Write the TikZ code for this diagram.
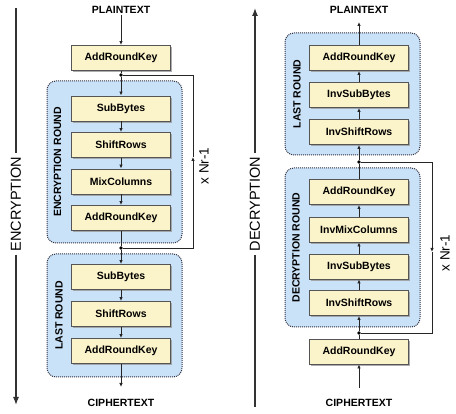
\documentclass[tikz,border=0pt]{standalone}
\usepackage{fontspec}
\setmainfont{Liberation Sans}
\usetikzlibrary{arrows.meta,shadows}
\definecolor{boxfill}{HTML}{FBF3C9}
\definecolor{boxline}{HTML}{555555}
\definecolor{roundfill}{HTML}{C9E2F8}
\definecolor{roundline}{HTML}{333344}
\begin{document}
\begin{tikzpicture}[x=1pt,y=-1pt,
  stepbox/.style={draw=boxline, line width=0.9pt, fill=boxfill, minimum width=99pt, minimum height=25pt, inner sep=0pt,
    font=\bfseries\fontsize{10.5}{12}\selectfont,
    drop shadow={shadow xshift=1.6pt, shadow yshift=-1.6pt, fill=black!40, opacity=0.8}},
  roundbox/.style={draw=roundline, fill=roundfill, dash pattern=on 1pt off 1pt, line width=1pt, rounded corners=9pt, inner sep=0pt},
  lbl/.style={font=\bfseries\fontsize{10.5}{12}\selectfont, inner sep=1pt},
  sidelbl/.style={font=\fontsize{14.5}{16}\selectfont, rotate=90, inner sep=3pt},
  looplbl/.style={font=\fontsize{13.5}{15}\selectfont, rotate=90, inner sep=1pt},
  conn/.style={draw=black!85, line width=0.8pt},
  arr/.style={conn, -{Latex[length=4pt,width=3.5pt]}},
  bigarr/.style={draw=black!80, line width=1.3pt, -{Latex[length=8pt,width=6pt]}},
  dot/.style={circle, fill=black, inner sep=0pt, minimum size=3.6pt}
]
\useasboundingbox (0,0) rectangle (456,414);

% ---------------- ENCRYPTION ----------------
\coordinate (ea) at (16,8);
\coordinate (eb) at (16,405);
\node[sidelbl] (enclbl) at (16,204) {ENCRYPTION};
\draw[draw=black!80, line width=1.3pt] (ea) -- (enclbl);
\draw[bigarr] (enclbl) -- (eb);

\node[roundbox, minimum width=135pt, minimum height=162pt] (eround) at (114.5,162) {};
\node[roundbox, minimum width=135pt, minimum height=123pt] (elast) at (114.5,315.5) {};
\node[lbl, rotate=90] (eroundlbl) at (57.5,162) {ENCRYPTION ROUND};
\node[lbl, rotate=90] (elastlbl) at (59,315.5) {LAST ROUND};

\node[lbl] (plain1) at (121,10) {PLAINTEXT};
\node[stepbox] (ark0) at (121,58) {AddRoundKey};
\node[dot] (j1) at (121,75) {};
\node[stepbox] (sb1) at (121,108.5) {SubBytes};
\node[stepbox] (sr1) at (121,145) {ShiftRows};
\node[stepbox] (mc1) at (121,181.5) {MixColumns};
\node[stepbox] (ark1) at (121,218) {AddRoundKey};
\node[dot] (j2) at (121,248) {};
\node[stepbox] (sb2) at (121,277) {SubBytes};
\node[stepbox] (sr2) at (121,314) {ShiftRows};
\node[stepbox] (ark2) at (121,351) {AddRoundKey};
\coordinate (ct1) at (121,387);
\node[lbl] (cipher1) at (121,403) {CIPHERTEXT};

\draw[arr] (plain1) -- (ark0);
\draw[conn] (ark0) -- (j1);
\draw[arr] (j1) -- (sb1);
\draw[arr] (sb1) -- (sr1);
\draw[arr] (sr1) -- (mc1);
\draw[arr] (mc1) -- (ark1);
\draw[conn] (ark1) -- (j2);
\draw[arr] (j2) -- (sb2);
\draw[arr] (sb2) -- (sr2);
\draw[arr] (sr2) -- (ark2);
\draw[arr] (ark2) -- (ct1);

\coordinate (el1) at (193,248);
\coordinate (elm) at (193,157);
\coordinate (el2) at (193,75);
\draw[arr] (j2) -- (el1) -- (elm);
\draw[conn] (elm) -- (el2) -- (j1);
\node[looplbl] (enr) at (204,166) {x Nr-1};

% ---------------- DECRYPTION ----------------
\coordinate (da) at (255,407);
\coordinate (db) at (255,8);
\node[sidelbl] (declbl) at (255,204) {DECRYPTION};
\draw[draw=black!80, line width=1.3pt] (da) -- (declbl);
\draw[bigarr] (declbl) -- (db);

\node[roundbox, minimum width=135pt, minimum height=122pt] (dlast) at (352.5,94) {};
\node[roundbox, minimum width=135pt, minimum height=159pt] (dround) at (352.5,247.5) {};
\node[lbl, rotate=90] (dlastlbl) at (297,94) {LAST ROUND};
\node[lbl, rotate=90] (droundlbl) at (296,247.5) {DECRYPTION ROUND};

\node[lbl] (plain2) at (359,10) {PLAINTEXT};
\coordinate (pt2) at (359,22);
\node[stepbox] (ark3) at (359,58) {AddRoundKey};
\node[stepbox] (isb3) at (359,95) {InvSubBytes};
\node[stepbox] (isr3) at (359,132) {InvShiftRows};
\node[dot] (j3) at (359,162) {};
\node[stepbox] (ark4) at (359,192) {AddRoundKey};
\node[stepbox] (imc) at (359,229.5) {InvMixColumns};
\node[stepbox] (isb4) at (359,266.5) {InvSubBytes};
\node[stepbox] (isr4) at (359,303) {InvShiftRows};
\node[dot] (j4) at (359,333) {};
\node[stepbox] (ark5) at (359,351.5) {AddRoundKey};
\coordinate (ct2) at (359,388);
\node[lbl] (cipher2) at (359,403) {CIPHERTEXT};

\draw[arr] (ct2) -- (ark5);
\draw[conn] (ark5) -- (j4);
\draw[arr] (j4) -- (isr4);
\draw[arr] (isr4) -- (isb4);
\draw[arr] (isb4) -- (imc);
\draw[arr] (imc) -- (ark4);
\draw[conn] (ark4) -- (j3);
\draw[arr] (j3) -- (isr3);
\draw[arr] (isr3) -- (isb3);
\draw[arr] (isb3) -- (ark3);
\draw[arr] (ark3) -- (pt2);

\coordinate (dl1) at (432,162);
\coordinate (dlm) at (432,252);
\coordinate (dl2) at (432,333);
\draw[arr] (j3) -- (dl1) -- (dlm);
\draw[conn] (dlm) -- (dl2) -- (j4);
\node[looplbl] (dnr) at (445,253) {x Nr-1};
\end{tikzpicture}
\end{document}
